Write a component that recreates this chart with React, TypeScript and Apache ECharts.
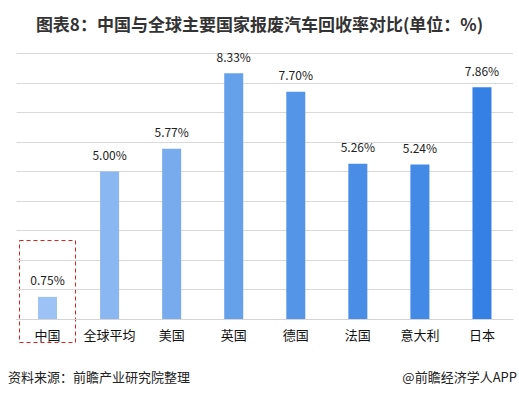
import React, { useEffect, useRef } from "react";
import * as echarts from "echarts";

const categories = ["中国", "全球平均", "美国", "英国", "德国", "法国", "意大利", "日本"];
const values = [0.75, 5.0, 5.77, 8.33, 7.7, 5.26, 5.24, 7.86];
const barColors = ["#9dc3f6", "#8ab6f2", "#78aaee", "#65a0eb", "#5595e8", "#4a8de6", "#428ae6", "#3580e5"];

const FONT = "'Noto Sans CJK SC', 'Microsoft YaHei', sans-serif";

export default function App() {
  const ref = useRef<HTMLDivElement>(null);
  useEffect(() => {
    if (!ref.current) return;
    const chart = echarts.init(ref.current, undefined, { renderer: "svg" });
    chart.setOption({
      animation: false,
      backgroundColor: "#ffffff",
      title: {
        text: "图表8：中国与全球主要国家报废汽车回收率对比(单位：%)",
        left: "center",
        top: 10,
        textStyle: { fontFamily: FONT, fontSize: 17, fontWeight: "bold", color: "#333333" },
      },
      grid: { left: 16.5, right: 6, top: 53.5, bottom: 79, containLabel: false },
      xAxis: {
        type: "category",
        data: categories,
        axisLine: { lineStyle: { color: "#d4d4d4", width: 1 } },
        axisTick: { show: false },
        axisLabel: { fontFamily: FONT, fontSize: 13, color: "#111111", margin: 9, interval: 0 },
      },
      yAxis: {
        type: "value",
        min: 0,
        max: 9,
        interval: 1,
        axisLabel: { show: false },
        axisLine: { show: false },
        axisTick: { show: false },
        splitLine: { lineStyle: { color: "#d9d9d9", width: 1 } },
      },
      series: [
        {
          type: "bar",
          barWidth: 19,
          data: values.map((v, i) => ({ value: v, itemStyle: { color: barColors[i] } })),
          label: {
            show: true,
            position: "top",
            distance: 11,
            formatter: (p: any) => p.value.toFixed(2) + "%",
            fontFamily: FONT,
            fontSize: 12,
            color: "#222222",
          },
        },
      ],
      graphic: [
        {
          type: "rect",
          shape: { x: 19.5, y: 240.5, width: 56, height: 102 },
          style: { fill: "none", stroke: "#e02020", lineWidth: 1, lineDash: [4, 3] },
        },
        {
          type: "text",
          left: 8,
          top: 370,
          style: { text: "资料来源：前瞻产业研究院整理", font: `13px ${FONT}`, fill: "#222222" },
        },
        {
          type: "text",
          right: 2,
          top: 370,
          style: { text: "@前瞻经济学人APP", font: `13px ${FONT}`, fill: "#222222" },
        },
      ],
    });
    return () => chart.dispose();
  }, []);
  return <div ref={ref} style={{ width: 519, height: 398, position: "absolute", left: 0, top: 0 }} />;
}
